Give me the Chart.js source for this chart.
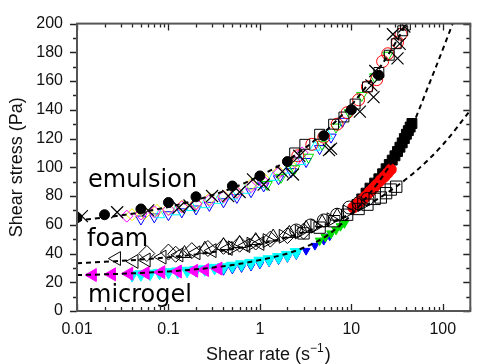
<!DOCTYPE html>
<html><head><meta charset="utf-8">
<script src="https://cdn.jsdelivr.net/npm/chart.js@4.4.0/dist/chart.umd.min.js"></script>
<style>html,body{margin:0;padding:0;background:#fff}canvas{display:block}</style>
</head><body>
<canvas id="c" width="480" height="364"></canvas>
<script>
// ---- tick labels ----
const xTickVals = [0.01, 0.1, 1, 10, 100];
const yTickVals = [0, 20, 40, 60, 80, 100, 120, 140, 160, 180, 200];

// ---- fit curves (dashed) ----
const emuFitX = [0.01,0.02,0.05,0.1,0.2,0.5,1,2,5,10,15,20,25,30,35,40];
const emuFitY = [63.0,65.1,68.7,72.4,77.2,85.5,94.0,104.8,124.1,143.4,157.2,168.3,177.7,186.0,193.4,200.2];
const foamFitX = [0.01,0.02,0.05,0.1,0.2,0.5,1,2,5,10,20,50,100,200];
const foamFitY = [33.3,34.2,35.8,37.4,39.4,43.1,46.7,51.4,59.6,67.8,78.4,97.0,115.7,139.6];
const microFitX = [0.01,0.02,0.05,0.1,0.2,0.5,1,2,3,5,7,10,15,20,30,45,70,100,130];
const microFitY = [25,25.5,26.5,27.5,29,32,35.5,40,44,51,58,67,80,90,107,127,157,182,201];

// ---- emulsion ----
const emuCircX = [0.01,0.02,0.05,0.1,0.2,0.5,1,2,5,10,20];
const emuCircY = [65,67,71,75.5,79.5,87,94,104,122,140,164];
const emuXaX = [0.0113,0.0275,0.06,0.17,0.3,0.6,0.84,1.76,2.7,6,12.4,17.5,32,33.8];
const emuXaY = [66,68.7,70,73.4,80,82.8,91.6,97,108,113,138.7,148.8,175.8,185.9];
const emuXbX = [0.13,0.45,1.1,2.3,5.7,16.6,18.3,28.5,38];
const emuXbY = [72,80,88,95,112,157,167,192.6,198];
const emuYelX = [0.04,0.055,0.075,0.1,0.14,0.2,0.28,0.4,0.56,0.8,1.1,1.6,2.2];
const emuYelY = [67,68,70,71,73,75,78,80,83,88,92,97,101];
const emuMagX = [0.035,0.05,0.07,0.1,0.14,0.2,0.28,0.4,0.56,0.8,1.1,1.6,2.4,2.9];
const emuMagY = [66,67.5,69,70.5,72.5,74.5,77,79.5,82.5,86.5,90,96,104,110];
const emuBluX = [0.05,0.07,0.1,0.14,0.2,0.28,0.4,0.56,0.8,1.1,1.6,2.2,3.2,4.5,6,8];
const emuBluY = [64,65.5,67,69,71,73.5,76,79,83,87,92,97,104,113,121,132];
const emuCyaX = [0.08,0.12,0.18,0.25,0.35,0.5,0.7,1,1.4,2,2.8,4,5.5];
const emuCyaY = [67,69,72,74,77,80,84,88,93,98,104,114,122];
const emuGrnX = [1.2,1.7,2.4,3.4,4.8,6.8,9.5,13,18,25];
const emuGrnY = [88,93,99,107,116,128,138,150,163,178];
const emuRedX = [2.6,3.7,5,7,9,12,15,18.9,22,25,32,35];
const emuRedY = [108,116,121,130,138,147,156,161,173.7,179,187,192.6];
const emuSqX = [2.4,3.1,4.5,6.4,8.3,11,15,20,26,31,36.5,39];
const emuSqY = [110,116,123,130,135,144,156,166,178,186,195,199];

// ---- foam ----
const foamLtX = [0.027,0.042,0.057,0.085,0.13,0.2,0.3,0.45,0.7,1];
const foamLtY = [36.5,34.5,35.5,37.5,39,40.5,42,43.5,45.5,47];
const foamDiX = [0.058,0.1,0.12,0.18,0.27,0.4,0.6,0.9,1.3,2,3];
const foamDiY = [40,41,39.5,42,43.5,45,46.5,48,50,52.5,55.5];
const foamUtX = [0.15,0.25,0.4,0.6,0.9,1.4,2.1,3.2,4.8,7];
const foamUtY = [40,43,45.5,47,49,51.5,54,57.5,61.5,66];
const foamRtX = [0.5,0.8,1.2,1.8,2.7,4,6,9,13];
const foamRtY = [44,46.5,49,52,55,59,63.5,69,74];
const foamCiX = [2.5,3.6,5,7,9.5,12,15];
const foamCiY = [56,59.5,63,67,72,75,78];
const foamSqX = [3,4.5,6.5,9,12,15,18,21,24,27,31];
const foamSqY = [54,58,62.5,67,71,74,78,79,82,84.5,86.5];

// ---- microgel ----
const micMagX = [0.0148,0.024,0.037,0.056,0.083,0.126,0.19,0.25,0.35];
const micMagY = [25,25.5,26,26.5,27,27.5,28,28.5,29.5];
const micCyaX = [0.04,0.05,0.063,0.08,0.1,0.126,0.16,0.2,0.25,0.32,0.4,0.5,0.63,0.8,1,1.26,1.6,2,2.5];
const micCyaY = [25,25.5,26,26.5,27,27.5,28,28.5,29,30,30.5,31.5,32.5,33.5,35,36,37.5,39,41];
const micBluX = [0.4,0.5,0.63,0.8,1,1.26,1.6,2,2.5,3.2,4,5,5.8];
const micBluY = [28,29,30,31,32.5,34,35.5,37,39,42,45.5,49,52];
const micGrnX = [4.5,5.2,6,6.8,7.6,8.4];
const micGrnY = [49,51.5,54,56.5,59,61];
const micBlkX = [11.5,13,14.5,16,18,20,22,24,26,28,30,32,34,36,38,40,42,44,46];
const micBlkY = [74,78,82,85.5,89,92,95.5,99,102,105,108,111,114,117,120,123,125.5,128,130.5];
const micRedX = [10.5,11.5,12.5,13.5,14.5,16,17.5,19,21,23,25,27];
const micRedY = [72,74,76,78,80,83,85.5,88,91,93.5,96,98.5];

const pts = (xs, ys) => xs.map((x, i) => ({x: x, y: ys[i]}));
const NONE = 'rgba(0,0,0,0)';
function fit(xs, ys) {
  return {data: pts(xs, ys), showLine: true, borderColor: '#000', borderWidth: 2,
    borderDash: [5, 4], pointRadius: 0, cubicInterpolationMode: 'monotone', clip: 0};
}
function mk(xs, ys, style, r, stroke, fill, rot, bw) {
  return {data: pts(xs, ys), showLine: false, pointStyle: style, pointRadius: r,
    pointRotation: rot || 0, borderColor: stroke, backgroundColor: fill,
    borderWidth: bw === undefined ? 1 : bw, clip: 0};
}

const datasets = [
  fit(emuFitX, emuFitY), fit(foamFitX, foamFitY), fit(microFitX, microFitY),
  mk(emuCircX, emuCircY, 'circle', 5, '#000', '#000'),
  mk(emuXaX, emuXaY, 'crossRot', 8.5, '#000', NONE, 0, 1.2),
  mk(emuXbX, emuXbY, 'crossRot', 8.5, '#000', NONE, 0, 1.2),
  mk(emuSqX, emuSqY, 'rect', 7, '#000', NONE),
  mk(emuRedX, emuRedY, 'circle', 6, '#ff0000', NONE),
  mk(emuGrnX, emuGrnY, 'triangle', 6, '#00e000', NONE, 180),
  mk(emuMagX, emuMagY, 'rectRot', 6, '#ff00ff', NONE),
  mk(emuYelX, emuYelY, 'rectRot', 6, '#f0f000', NONE),
  mk(emuCyaX, emuCyaY, 'triangle', 6, '#00ffff', NONE),
  mk(emuBluX, emuBluY, 'triangle', 6, '#0000ff', NONE, 180),
  mk(foamLtX, foamLtY, 'triangle', 8, '#000', NONE, 270),
  mk(foamDiX, foamDiY, 'rectRot', 8, '#000', NONE),
  mk(foamUtX, foamUtY, 'triangle', 8, '#000', NONE),
  mk(foamRtX, foamRtY, 'triangle', 8, '#000', NONE, 90),
  mk(foamCiX, foamCiY, 'circle', 6.5, '#000', NONE),
  mk(foamSqX, foamSqY, 'rect', 8, '#000', NONE),
  mk(micRedX, micRedY, 'circle', 5.5, '#ff0000', '#ff0000'),
  mk(micBlkX, micBlkY, 'rect', 7, '#000', '#000'),
  mk(micMagX, micMagY, 'triangle', 7.5, '#ff00ff', '#ff00ff', 270),
  mk(micGrnX, micGrnY, 'triangle', 5, '#00dd00', '#00dd00', 180),
  mk(micCyaX, micCyaY, 'triangle', 7, '#00ffff', '#00ffff', 180),
  mk(micBluX, micBluY, 'triangle', 4.5, '#0000ff', '#0000ff', 180)
];

const frame = {
  id: 'frame',
  afterDraw(chart) {
    const ctx = chart.ctx, a = chart.chartArea;
    const xs = chart.scales.x, ys = chart.scales.y;
    ctx.save();
    ctx.strokeStyle = '#222'; ctx.lineWidth = 1.3;
    ctx.beginPath();
    // x ticks (inward top & bottom)
    for (let d = 0.01; d < 300; d *= 10) {
      for (let k = 1; k <= 9; k++) {
        const v = d * k; if (v > 200.0001) break;
        const px = Math.round(xs.getPixelForValue(v)) + 0.5;
        const L = k === 1 ? 7 : 4;
        ctx.moveTo(px, a.bottom); ctx.lineTo(px, a.bottom - L);
        ctx.moveTo(px, a.top); ctx.lineTo(px, a.top + L);
      }
    }
    // y ticks (outward left, inward right)
    for (let v = 0; v <= 200; v += 10) {
      const py = Math.round(ys.getPixelForValue(v)) + 0.5;
      const L = v % 20 === 0 ? 7 : 4;
      ctx.moveTo(a.left, py); ctx.lineTo(a.left - L, py);
      ctx.moveTo(a.right, py); ctx.lineTo(a.right - L, py);
    }
    ctx.stroke();
    ctx.strokeStyle = '#555'; ctx.lineWidth = 2;
    ctx.strokeRect(a.left, a.top, a.right - a.left, a.bottom - a.top);
    // titles
    ctx.fillStyle = '#111';
    ctx.font = '18px "Liberation Sans", Arial, sans-serif';
    ctx.textAlign = 'center'; ctx.textBaseline = 'alphabetic';
    ctx.fillText('Shear rate (s', 258, 360);
    const w = ctx.measureText('Shear rate (s').width;
    ctx.font = '12px "Liberation Sans", Arial, sans-serif';
    ctx.textAlign = 'left';
    ctx.fillText('\u22121', 258 + w / 2, 352);
    const w2 = ctx.measureText('\u22121').width;
    ctx.font = '18px "Liberation Sans", Arial, sans-serif';
    ctx.fillText(')', 258 + w / 2 + w2 + 1, 360);
    ctx.save();
    ctx.translate(22, (a.top + a.bottom) / 2);
    ctx.rotate(-Math.PI / 2);
    ctx.textAlign = 'center';
    ctx.fillText('Shear stress (Pa)', 0, 0);
    ctx.restore();
    // in-plot labels
    ctx.font = '24px "DejaVu Sans", sans-serif';
    ctx.textAlign = 'left';
    ctx.fillStyle = '#000';
    ctx.fillText('emulsion', 88, 187);
    ctx.fillText('foam', 87, 246);
    ctx.fillText('microgel', 88, 302);
    ctx.restore();
  }
};

new Chart(document.getElementById('c'), {
  type: 'scatter',
  data: {datasets: datasets},
  options: {
    responsive: false, animation: false, devicePixelRatio: 1,
    layout: {padding: {left: 0, right: 1, top: 14, bottom: 0}},
    plugins: {legend: {display: false}, tooltip: {enabled: false}},
    scales: {
      x: {
        type: 'logarithmic', min: 0.01, max: 200,
        grid: {display: false, drawTicks: false}, border: {display: false},
        afterBuildTicks: s => { s.ticks = xTickVals.map(v => ({value: v})); },
        afterFit: s => { s.height = 53; },
        ticks: {autoSkip: false, maxRotation: 0, padding: 9, color: '#111',
          font: {family: '"Liberation Sans", Arial, sans-serif', size: 16},
          callback: v => String(v)}
      },
      y: {
        type: 'linear', min: 0, max: 200,
        grid: {display: false, drawTicks: false}, border: {display: false},
        afterBuildTicks: s => { s.ticks = yTickVals.map(v => ({value: v})); },
        afterFit: s => { s.width = 77; },
        ticks: {padding: 14, color: '#111',
          font: {family: '"Liberation Sans", Arial, sans-serif', size: 16}}
      }
    }
  },
  plugins: [frame]
});
</script>
</body></html>
